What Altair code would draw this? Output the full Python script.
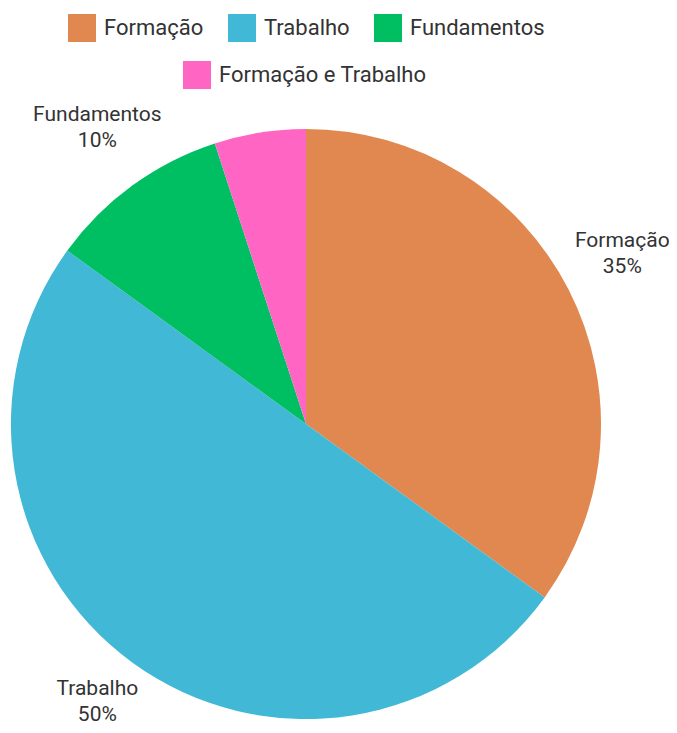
import altair as alt
import pandas as pd

categories = ["Formação", "Trabalho", "Fundamentos", "Formação e Trabalho"]
values = [35, 50, 10, 5]
colors = ["#E0884F", "#41B8D6", "#00BF63", "#FF66C4"]
order = [1, 2, 3, 4]

df = pd.DataFrame({"categoria": categories, "pct": values, "ordem": order})

FONT = "Roboto"
CX, CY, R = 298, 416, 295

base = alt.Chart(df).encode(
    theta=alt.Theta("pct:Q", stack=True),
    order=alt.Order("ordem:Q"),
)

arc = base.mark_arc(outerRadius=R).encode(
    x=alt.value(CX),
    y=alt.value(CY),
    color=alt.Color(
        "categoria:N",
        scale=alt.Scale(domain=categories, range=colors),
        legend=alt.Legend(
            values=categories[:3],
            title=None,
            orient="none",
            legendX=60,
            legendY=6,
            direction="horizontal",
            symbolType="square",
            symbolSize=784,
            symbolStrokeWidth=0,
            symbolOpacity=1,
            labelFontSize=22,
            labelFont=FONT,
            labelColor="#333333",
            labelOffset=8,
            labelLimit=300,
            columnPadding=24,
            gridAlign="none",
        ),
    ),
)

extra = alt.Chart(df).transform_filter(
    alt.datum.categoria == categories[3]
).mark_point(size=1, color=colors[3], filled=True).encode(
    x=alt.value(CX),
    y=alt.value(CY),
    shape=alt.Shape(
        "categoria:N",
        scale=alt.Scale(range=["square"]),
        legend=alt.Legend(
            title=None,
            orient="none",
            legendX=175,
            legendY=53,
            symbolType="square",
            symbolSize=784,
            symbolFillColor=colors[3],
            symbolStrokeWidth=0,
            symbolOpacity=1,
            labelFontSize=22,
            labelFont=FONT,
            labelColor="#333333",
            labelOffset=8,
            labelLimit=300,
        ),
    ),
)

labels = base.transform_calculate(
    rotulo="datum.pct >= 10 ? datum.categoria + '\\n' + datum.pct + '%' : ''"
).mark_text(
    radius=355,
    fontSize=21,
    font=FONT,
    color="#333333",
    lineBreak="\n",
    lineHeight=26,
    align="center",
    baseline="middle",
    dy=-22,
).encode(
    x=alt.value(CX),
    y=alt.value(CY),
    text="rotulo:N",
)

chart = alt.layer(extra, arc, labels).properties(
    width=661, height=717, padding=0, autosize="none"
).configure_view(stroke=None).resolve_scale(shape="independent")

chart.save("out.html", embed_options={"renderer": "svg", "actions": False})
